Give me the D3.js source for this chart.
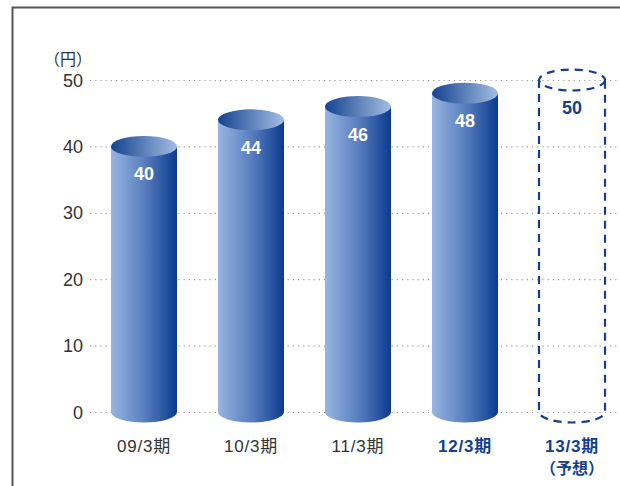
<!DOCTYPE html>
<html><head><meta charset="utf-8">
<script src="https://cdn.jsdelivr.net/npm/d3@7"></script>
<style>
html,body{margin:0;padding:0;background:#fff;}
svg{display:block;}
</style></head>
<body>
<script>
const categories = ["09/3期","10/3期","11/3期","12/3期","13/3期"];
const subLabels = ["","","","","（予想）"];
const values = [40,44,46,48,50];
const forecast = [false,false,false,false,true];
const highlight = [false,false,false,true,true];
const yTicks = [0,10,20,30,40,50];
const unitLabel = "（円）";

const W=620,H=486;
const svg=d3.select("body").append("svg").attr("width",W).attr("height",H);
const font='"Liberation Sans","Noto Sans CJK JP",Arial,sans-serif';
const blue="#123f8f";

// frame
svg.append("path").attr("d","M12.5,486 V7.5 H620").attr("fill","none").attr("stroke","#555").attr("stroke-width",2);

const y=d3.scaleLinear().domain([0,50]).range([412,80]);
const x=d3.scaleBand().domain(categories).range([90.5,625.5]).paddingInner(0.383).paddingOuter(0.1915);

const defs=svg.append("defs");
const gb=defs.append("linearGradient").attr("id","body").attr("x1",0).attr("x2",1).attr("y1",0).attr("y2",0);
gb.append("stop").attr("offset","0%").attr("stop-color","#97b5e0");
gb.append("stop").attr("offset","50%").attr("stop-color","#5a7fc0");
gb.append("stop").attr("offset","100%").attr("stop-color","#0b3b8e");
const gt=defs.append("linearGradient").attr("id","top").attr("x1",0).attr("x2",1).attr("y1",0).attr("y2",0);
gt.append("stop").attr("offset","0%").attr("stop-color","#15438f");
gt.append("stop").attr("offset","100%").attr("stop-color","#a3bde4");

// grid + tick labels
const gAxis=svg.append("g");
gAxis.selectAll("line").data(yTicks).join("line")
 .attr("x1",90).attr("x2",620).attr("y1",d=>y(d)+0.5).attr("y2",d=>y(d)+0.5)
 .attr("stroke","#9a9a9a").attr("stroke-width",1.2).attr("stroke-dasharray","1.2,4");
gAxis.selectAll("text").data(yTicks).join("text")
 .attr("x",83).attr("y",d=>y(d)+6.5).attr("text-anchor","end")
 .attr("font-family",font).attr("font-size",18).attr("fill","#333").text(d=>d);
svg.append("text").attr("x",44).attr("y",65).attr("font-family",font).attr("font-size",16).attr("fill","#333").text(unitLabel);

const ry=10.5;
const data=categories.map((c,i)=>({c,v:values[i],f:forecast[i],h:highlight[i],s:subLabels[i]}));
const bw=x.bandwidth(), rx=bw/2;
const g=svg.append("g");
data.forEach(d=>{
  const cx=x(d.c)+rx, yt=y(d.v), yb=y(0);
  const path=`M${cx-rx},${yt} V${yb} A${rx},${ry} 0 0 0 ${cx+rx},${yb} V${yt} Z`;
  if(!d.f){
    g.append("path").attr("d",path).attr("fill","url(#body)");
    g.append("ellipse").attr("cx",cx).attr("cy",yt).attr("rx",rx).attr("ry",ry).attr("fill","url(#top)");
    g.append("text").attr("x",cx).attr("y",yt+34).attr("text-anchor","middle")
      .attr("font-family",font).attr("font-weight","bold").attr("font-size",18).attr("fill","#fff").text(d.v);
  } else {
    g.append("path").attr("d",`M${cx-rx},${yt} V${yb} A${rx},${ry} 0 0 0 ${cx+rx},${yb} V${yt}`)
      .attr("fill","none").attr("stroke",blue).attr("stroke-width",2.2).attr("stroke-dasharray","8,6");
    g.append("ellipse").attr("cx",cx).attr("cy",yt).attr("rx",rx).attr("ry",ry)
      .attr("fill","none").attr("stroke",blue).attr("stroke-width",2.2).attr("stroke-dasharray","8,6");
    g.append("text").attr("x",cx).attr("y",yt+34).attr("text-anchor","middle")
      .attr("font-family",font).attr("font-weight","bold").attr("font-size",18).attr("fill",blue).text(d.v);
  }
  g.append("text").attr("x",cx).attr("y",452).attr("text-anchor","middle")
    .attr("font-family",font).attr("font-size",17).attr("letter-spacing",0.8).attr("font-weight",d.h?"bold":"normal")
    .attr("fill",d.h?blue:"#333").text(d.c);
  if(d.s){
    g.append("text").attr("x",cx).attr("y",474).attr("text-anchor","middle")
      .attr("font-family",font).attr("font-size",16).attr("font-weight","bold")
      .attr("fill",blue).text(d.s);
  }
});
</script>
</body></html>
